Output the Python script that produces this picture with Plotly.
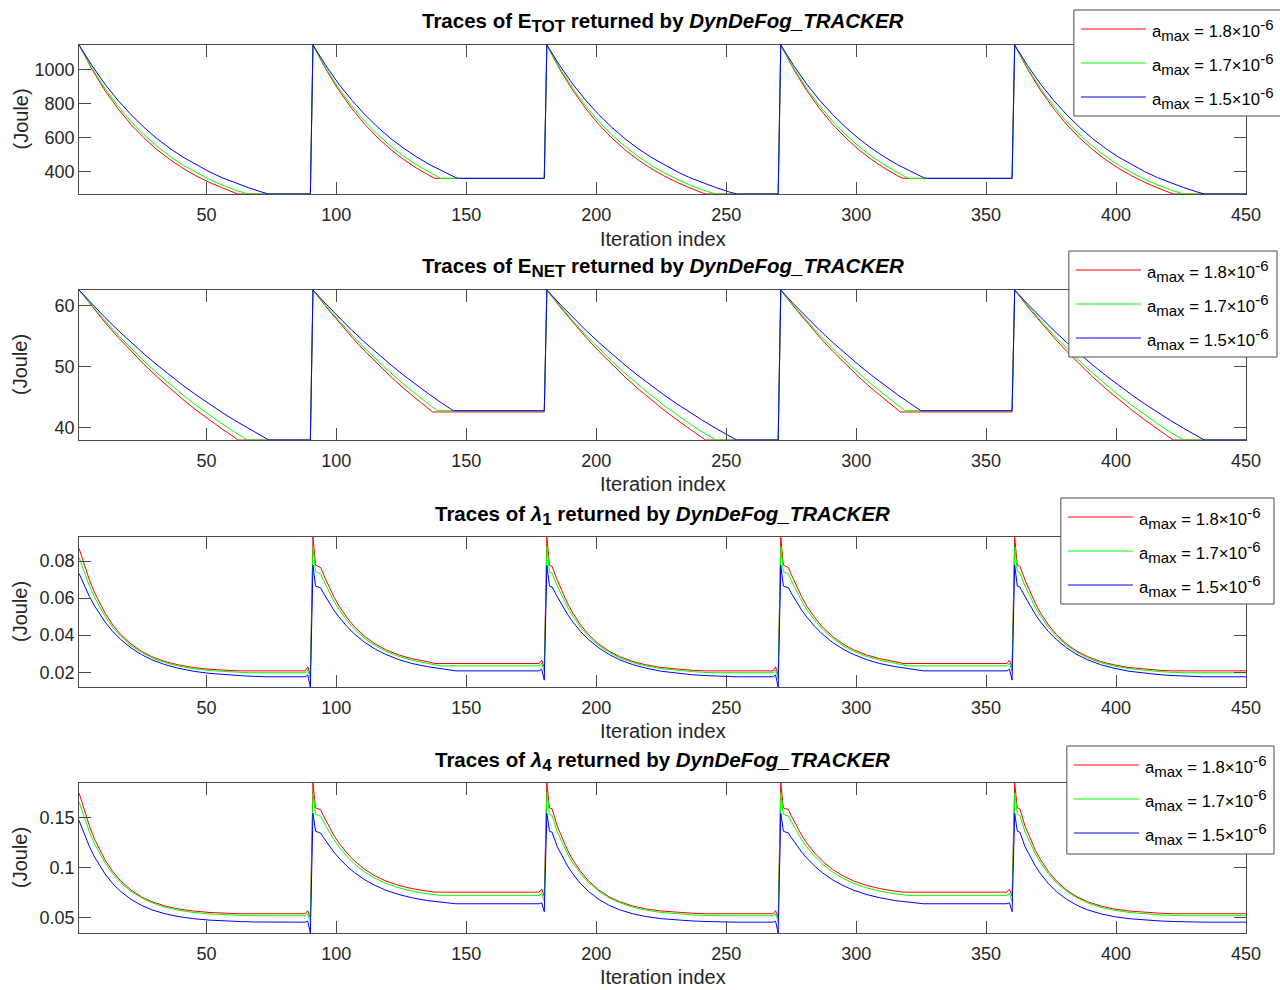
import plotly.graph_objects as go

# ---------------- data ----------------
CYCLE_STARTS = [1, 91, 181, 271, 361]
CYCLE_TYPES = ["A", "B", "A", "B", "A"]
SUB = '<sub><span style="font-size:15px">%s</span></sub>'
SUP = '<sup><span style="font-size:15px">%s</span></sup>'
SERIES_NAMES = ["a" + SUB % "max" + " = 1.8×10" + SUP % "-6",
                "a" + SUB % "max" + " = 1.7×10" + SUP % "-6",
                "a" + SUB % "max" + " = 1.5×10" + SUP % "-6"]
SERIES_COLORS = ["#ff0000", "#00ff00", "#0000ff"]
X_TICKS = [50, 100, 150, 200, 250, 300, 350, 400, 450]

# E_TOT (Joule): decay in a cycle, offsets from cycle start
ETOT_A_OFF_RED = [0, 5, 10, 15, 20, 25, 30, 35, 40, 45, 50, 55, 60, 61]
ETOT_A_RED = [1147, 1003, 879, 772, 679, 600, 531, 472, 421, 377, 339, 306, 277, 270]
ETOT_B_OFF_RED = [0, 5, 10, 15, 20, 25, 30, 35, 40, 45, 47]
ETOT_B_RED = [1147, 1003, 879, 772, 679, 600, 531, 472, 421, 377, 362]
ETOT_A_OFF_GREEN = [0, 5, 10, 15, 20, 25, 30, 35, 40, 45, 50, 55, 60, 65]
ETOT_A_GREEN = [1147, 1010, 891, 787, 697, 619, 551, 492, 440, 396, 357, 323, 294, 270]
ETOT_B_OFF_GREEN = [0, 5, 10, 15, 20, 25, 30, 35, 40, 45, 49]
ETOT_B_GREEN = [1147, 1010, 891, 787, 697, 619, 551, 492, 440, 396, 362]
ETOT_A_OFF_BLUE = [0, 5, 10, 15, 20, 25, 30, 35, 40, 45, 50, 55, 60, 65, 70, 73]
ETOT_A_BLUE = [1147, 1025, 916, 821, 737, 662, 596, 538, 487, 442, 402, 366, 335, 308, 283, 270]
ETOT_B_OFF_BLUE = [0, 5, 10, 15, 20, 25, 30, 35, 40, 45, 50, 55, 56]
ETOT_B_BLUE = [1147, 1025, 916, 821, 737, 662, 596, 538, 487, 442, 402, 366, 362]

# E_NET (Joule)
ENET_A_OFF_RED = [0, 5, 10, 15, 20, 25, 30, 35, 40, 45, 50, 55, 60, 61]
ENET_A_RED = [62.6, 59.86, 57.28, 54.85, 52.56, 50.40, 48.36, 46.44, 44.63, 42.93, 41.32, 39.81, 38.38, 38.0]
ENET_B_OFF_RED = [0, 5, 10, 15, 20, 25, 30, 35, 40, 45, 46]
ENET_B_RED = [62.6, 59.86, 57.28, 54.85, 52.56, 50.40, 48.36, 46.44, 44.63, 42.93, 42.6]
ENET_A_OFF_GREEN = [0, 5, 10, 15, 20, 25, 30, 35, 40, 45, 50, 55, 60, 65]
ENET_A_GREEN = [62.6, 60.00, 57.54, 55.22, 53.02, 50.94, 48.98, 47.12, 45.37, 43.71, 42.14, 40.66, 39.26, 38.0]
ENET_B_OFF_GREEN = [0, 5, 10, 15, 20, 25, 30, 35, 40, 45, 48]
ENET_B_GREEN = [62.6, 60.00, 57.54, 55.22, 53.02, 50.94, 48.98, 47.12, 45.37, 43.71, 42.8]
ENET_A_OFF_BLUE = [0, 5, 10, 15, 20, 25, 30, 35, 40, 45, 50, 55, 60, 65, 70, 73]
ENET_A_BLUE = [62.6, 60.29, 58.09, 55.99, 54.00, 52.11, 50.31, 48.59, 46.96, 45.41, 43.93, 42.52, 41.19, 39.91, 38.70, 38.0]
ENET_B_OFF_BLUE = [0, 5, 10, 15, 20, 25, 30, 35, 40, 45, 50, 54]
ENET_B_BLUE = [62.6, 60.29, 58.09, 55.99, 54.00, 52.11, 50.31, 48.59, 46.96, 45.41, 43.93, 42.8]

# lambda_1 (Joule)
L1_HEAD_RED = [0.0930, 0.0778, 0.0772]
L1_HEAD_GREEN = [0.0877, 0.0742, 0.0736]
L1_HEAD_BLUE = [0.0778, 0.0665, 0.0660]
L1_A_OFF_RED = [0, 2, 4, 6, 8, 10, 13, 16, 20, 24, 28, 33, 38, 44, 50, 56, 61]
L1_A_RED = [0.0869, 0.0777, 0.0697, 0.0629, 0.0570, 0.0519, 0.0455, 0.0404, 0.0352, 0.0313,
            0.0284, 0.0258, 0.0240, 0.0225, 0.0216, 0.0210, 0.0207]
L1_A_OFF_GREEN = [0, 2, 4, 6, 8, 10, 13, 16, 20, 24, 28, 33, 38, 44, 50, 56, 62, 65]
L1_A_GREEN = [0.0820, 0.0737, 0.0665, 0.0603, 0.0549, 0.0502, 0.0442, 0.0394, 0.0344, 0.0307,
              0.0278, 0.0252, 0.0234, 0.0219, 0.0209, 0.0203, 0.0198, 0.0197]
L1_A_OFF_BLUE = [0, 2, 4, 6, 8, 10, 13, 16, 20, 24, 28, 33, 38, 44, 50, 56, 62, 68, 73]
L1_A_BLUE = [0.0733, 0.0667, 0.0608, 0.0557, 0.0511, 0.0471, 0.0419, 0.0377, 0.0331, 0.0295,
             0.0267, 0.0241, 0.0222, 0.0205, 0.0194, 0.0186, 0.0181, 0.0177, 0.0175]
L1_B_OFF_RED = [3, 4, 6, 8, 10, 13, 16, 20, 24, 28, 33, 38, 44, 47]
L1_B_RED = [0.0765, 0.0729, 0.0664, 0.0608, 0.0558, 0.0496, 0.0445, 0.0392, 0.0352, 0.0321,
            0.0293, 0.0273, 0.0257, 0.0247]
L1_B_OFF_GREEN = [3, 4, 6, 8, 10, 13, 16, 20, 24, 28, 33, 38, 44, 49]
L1_B_GREEN = [0.0730, 0.0697, 0.0637, 0.0585, 0.0539, 0.0481, 0.0433, 0.0382, 0.0343, 0.0313,
              0.0285, 0.0265, 0.0248, 0.0234]
L1_B_OFF_BLUE = [3, 4, 6, 8, 10, 13, 16, 20, 24, 28, 33, 38, 44, 50, 55]
L1_B_BLUE = [0.0655, 0.0628, 0.0580, 0.0536, 0.0498, 0.0448, 0.0406, 0.0360, 0.0324, 0.0296,
             0.0268, 0.0247, 0.0230, 0.0217, 0.0207]
L1_END_A_BUMP = [0.0229, 0.0212, 0.0185]
L1_END_A_DIP = [0.0185, 0.0167, 0.0120]
L1_END_B_BUMP = [0.0265, 0.0249, 0.0216]
L1_END_B_DIP = [0.0225, 0.0204, 0.0157]

# lambda_4 (Joule)
L4_HEAD_RED = [0.185, 0.160, 0.159]
L4_HEAD_GREEN = [0.175, 0.1535, 0.1525]
L4_HEAD_BLUE = [0.1545, 0.1365, 0.1355]
L4_A_OFF_RED = [0, 2, 4, 6, 8, 10, 13, 16, 20, 24, 28, 33, 38, 44, 50, 56, 61]
L4_A_RED = [0.1750, 0.1569, 0.1415, 0.1283, 0.1171, 0.1076, 0.0959, 0.0866, 0.0773, 0.0705,
            0.0656, 0.0613, 0.0584, 0.0562, 0.0548, 0.0540, 0.0535]
L4_A_OFF_GREEN = [0, 2, 4, 6, 8, 10, 13, 16, 20, 24, 28, 33, 38, 44, 50, 56, 62, 65]
L4_A_GREEN = [0.1658, 0.1496, 0.1357, 0.1238, 0.1135, 0.1046, 0.0937, 0.0849, 0.0760, 0.0694,
              0.0645, 0.0601, 0.0571, 0.0548, 0.0533, 0.0523, 0.0517, 0.0515]
L4_A_OFF_BLUE = [0, 2, 4, 6, 8, 10, 13, 16, 20, 24, 28, 33, 38, 44, 50, 56, 62, 68, 73]
L4_A_BLUE = [0.1472, 0.1331, 0.1209, 0.1104, 0.1013, 0.0935, 0.0837, 0.0759, 0.0679, 0.0619,
             0.0574, 0.0535, 0.0507, 0.0485, 0.0471, 0.0462, 0.0456, 0.0452, 0.0450]
L4_B_OFF_RED = [3, 4, 6, 8, 10, 13, 16, 20, 24, 28, 33, 38, 44, 47]
L4_B_RED = [0.1580, 0.1522, 0.1417, 0.1326, 0.1247, 0.1147, 0.1065, 0.0979, 0.0915, 0.0865,
            0.0820, 0.0788, 0.0762, 0.0752]
L4_B_OFF_GREEN = [3, 4, 6, 8, 10, 13, 16, 20, 24, 28, 33, 38, 44, 49]
L4_B_GREEN = [0.1516, 0.1463, 0.1366, 0.1282, 0.1207, 0.1113, 0.1035, 0.0953, 0.0890, 0.0841,
              0.0796, 0.0763, 0.0736, 0.0720]
L4_B_OFF_BLUE = [3, 4, 6, 8, 10, 13, 16, 20, 24, 28, 33, 38, 44, 50, 55]
L4_B_BLUE = [0.1345, 0.1303, 0.1225, 0.1156, 0.1095, 0.1015, 0.0948, 0.0875, 0.0818, 0.0772,
             0.0728, 0.0696, 0.0667, 0.0647, 0.0635]
L4_END_A_BUMP = [0.0565, 0.0535, 0.0460]
L4_END_A_DIP = [0.0495, 0.0455, 0.0341]
L4_END_B_BUMP = [0.0782, 0.0740, 0.0645]
L4_END_B_DIP = [0.0712, 0.0660, 0.0555]

Y_RANGES = [[270, 1147], [38.0, 62.6], [0.0120, 0.0930], [0.0341, 0.185]]
Y_TICKS = [[400, 600, 800, 1000], [40, 50, 60], [0.02, 0.04, 0.06, 0.08], [0.05, 0.1, 0.15]]
TSUB = '<sub><span style="font-size:17px">%s</span></sub>'
TITLES = ["<b>Traces of E" + TSUB % "TOT" + " returned by <i>DynDeFog_TRACKER</i></b>",
          "<b>Traces of E" + TSUB % "NET" + " returned by <i>DynDeFog_TRACKER</i></b>",
          "<b>Traces of <i>λ</i>" + TSUB % "1" + " returned by <i>DynDeFog_TRACKER</i></b>",
          "<b>Traces of <i>λ</i>" + TSUB % "4" + " returned by <i>DynDeFog_TRACKER</i></b>"]
X_LABEL = "Iteration index"
Y_LABEL = "(Joule)"


def build(decay, head=None, ends=None):
    xs, ys = [], []
    n = len(CYCLE_STARTS)
    for c, (s, t) in enumerate(zip(CYCLE_STARTS, CYCLE_TYPES)):
        offs, vals = decay[t]
        pts = list(zip(offs, vals))
        if head is not None and c > 0:
            pts = list(enumerate(head)) + [(o, v) for o, v in pts if o > 2]
        floor = vals[-1]
        if ends is not None and c < n - 1:
            bump, dip = ends[t]
            pts += [(87, floor), (88, bump), (89, dip)]
        else:
            pts += [(89, floor)]
        xs += [s + o for o, _ in pts]
        ys += [v for _, v in pts]
    return xs, ys


PANELS = [
    [dict(decay={"A": (ETOT_A_OFF_RED, ETOT_A_RED), "B": (ETOT_B_OFF_RED, ETOT_B_RED)}),
     dict(decay={"A": (ETOT_A_OFF_GREEN, ETOT_A_GREEN), "B": (ETOT_B_OFF_GREEN, ETOT_B_GREEN)}),
     dict(decay={"A": (ETOT_A_OFF_BLUE, ETOT_A_BLUE), "B": (ETOT_B_OFF_BLUE, ETOT_B_BLUE)})],
    [dict(decay={"A": (ENET_A_OFF_RED, ENET_A_RED), "B": (ENET_B_OFF_RED, ENET_B_RED)}),
     dict(decay={"A": (ENET_A_OFF_GREEN, ENET_A_GREEN), "B": (ENET_B_OFF_GREEN, ENET_B_GREEN)}),
     dict(decay={"A": (ENET_A_OFF_BLUE, ENET_A_BLUE), "B": (ENET_B_OFF_BLUE, ENET_B_BLUE)})],
    [dict(decay={"A": (L1_A_OFF_RED, L1_A_RED), "B": (L1_B_OFF_RED, L1_B_RED)}, head=L1_HEAD_RED,
          ends={"A": (L1_END_A_BUMP[0], L1_END_A_DIP[0]), "B": (L1_END_B_BUMP[0], L1_END_B_DIP[0])}),
     dict(decay={"A": (L1_A_OFF_GREEN, L1_A_GREEN), "B": (L1_B_OFF_GREEN, L1_B_GREEN)}, head=L1_HEAD_GREEN,
          ends={"A": (L1_END_A_BUMP[1], L1_END_A_DIP[1]), "B": (L1_END_B_BUMP[1], L1_END_B_DIP[1])}),
     dict(decay={"A": (L1_A_OFF_BLUE, L1_A_BLUE), "B": (L1_B_OFF_BLUE, L1_B_BLUE)}, head=L1_HEAD_BLUE,
          ends={"A": (L1_END_A_BUMP[2], L1_END_A_DIP[2]), "B": (L1_END_B_BUMP[2], L1_END_B_DIP[2])})],
    [dict(decay={"A": (L4_A_OFF_RED, L4_A_RED), "B": (L4_B_OFF_RED, L4_B_RED)}, head=L4_HEAD_RED,
          ends={"A": (L4_END_A_BUMP[0], L4_END_A_DIP[0]), "B": (L4_END_B_BUMP[0], L4_END_B_DIP[0])}),
     dict(decay={"A": (L4_A_OFF_GREEN, L4_A_GREEN), "B": (L4_B_OFF_GREEN, L4_B_GREEN)}, head=L4_HEAD_GREEN,
          ends={"A": (L4_END_A_BUMP[1], L4_END_A_DIP[1]), "B": (L4_END_B_BUMP[1], L4_END_B_DIP[1])}),
     dict(decay={"A": (L4_A_OFF_BLUE, L4_A_BLUE), "B": (L4_B_OFF_BLUE, L4_B_BLUE)}, head=L4_HEAD_BLUE,
          ends={"A": (L4_END_A_BUMP[2], L4_END_A_DIP[2]), "B": (L4_END_B_BUMP[2], L4_END_B_DIP[2])})],
]

# ---------------- layout geometry (pixels) ----------------
W, H = 1280, 990
W_EFF = 1264  # width the page is actually drawn at in the viewer
FONT = "Liberation Sans, Arial, Helvetica, sans-serif"
AX_COLOR = "#4a4a4a"
TXT = "#262626"
PLOT_L, PLOT_R = 79, 1245
PLOT_TB = [(45, 194), (290, 440), (537, 687), (783, 933)]
TITLE_Y = [22, 268, 515, 761]
XLABEL_Y = [239, 484, 731, 977]
LEGEND_BOX = [(1073, 10, 1295, 116), (1068, 251, 1276, 357), (1060, 498, 1273, 604), (1066, 746, 1273, 854)]


def fx(p):
    return p / W_EFF


def fy(p):
    return 1 - p / H


fig = go.Figure()
layout = dict(width=W, height=H, autosize=False, margin=dict(l=0, r=0, t=0, b=0, pad=0),
              paper_bgcolor="white", plot_bgcolor="white", showlegend=False)
annotations = []
shapes = []

for i, panel in enumerate(PANELS):
    k = "" if i == 0 else str(i + 1)
    for j, spec in enumerate(panel):
        xs, ys = build(**spec)
        fig.add_trace(go.Scatter(x=xs, y=ys, mode="lines", name=SERIES_NAMES[j],
                                 line=dict(color=SERIES_COLORS[j], width=1),
                                 xaxis="x" + k, yaxis="y" + k, hoverinfo="skip"))
    top, bot = PLOT_TB[i]
    common = dict(ticks="inside", ticklen=12, tickwidth=1, tickcolor=AX_COLOR,
                  showline=True, linecolor=AX_COLOR, linewidth=1, mirror="ticks",
                  showgrid=False, zeroline=False,
                  tickfont=dict(family=FONT, size=18, color=TXT))
    layout["xaxis" + k] = dict(common, range=[1, 450], tickvals=X_TICKS, ticklabelstandoff=4,
                               domain=[fx(PLOT_L), min(1.0, fx(PLOT_R))], anchor="y" + k)
    layout["yaxis" + k] = dict(common, range=Y_RANGES[i], tickvals=Y_TICKS[i],
                               domain=[fy(bot), fy(top)], anchor="x" + k)
    cx = fx((PLOT_L + PLOT_R) / 2)
    annotations.append(dict(text=TITLES[i], x=cx, y=fy(TITLE_Y[i]), xref="paper", yref="paper",
                            xanchor="center", yanchor="middle", showarrow=False,
                            font=dict(family=FONT, size=20.5, color="#000000")))
    annotations.append(dict(text=X_LABEL, x=cx, y=fy(XLABEL_Y[i]), xref="paper", yref="paper",
                            xanchor="center", yanchor="middle", showarrow=False,
                            font=dict(family=FONT, size=20, color=TXT)))
    annotations.append(dict(text=Y_LABEL, x=fx(20), y=fy((top + bot) / 2), xref="paper", yref="paper",
                            xanchor="center", yanchor="middle", textangle=-90, showarrow=False,
                            font=dict(family=FONT, size=20, color=TXT)))
    # legend box
    x0, y0, x1, y1 = LEGEND_BOX[i]
    shapes.append(dict(type="rect", xref="paper", yref="paper", x0=fx(x0), x1=fx(x1),
                       y0=fy(y1), y1=fy(y0), line=dict(color=AX_COLOR, width=1),
                       fillcolor="white", layer="above"))
    for j in range(3):
        ry = y0 + 19 + 34 * j
        shapes.append(dict(type="line", xref="paper", yref="paper", x0=fx(x0 + 7), x1=fx(x0 + 72),
                           y0=fy(ry), y1=fy(ry), line=dict(color=SERIES_COLORS[j], width=1),
                           layer="above"))
        annotations.append(dict(text=SERIES_NAMES[j], x=fx(x0 + 76), y=fy(ry + 1), xref="paper",
                                yref="paper", xanchor="left", yanchor="middle", showarrow=False,
                                font=dict(family=FONT, size=16.7, color="#000000")))

layout["annotations"] = annotations
layout["shapes"] = shapes
fig.update_layout(**layout)
fig.write_html("out.html", config={"responsive": False},
               post_script="document.documentElement.style.overflow='hidden';"
                           "document.body.style.margin='0';document.body.style.overflow='hidden';")
